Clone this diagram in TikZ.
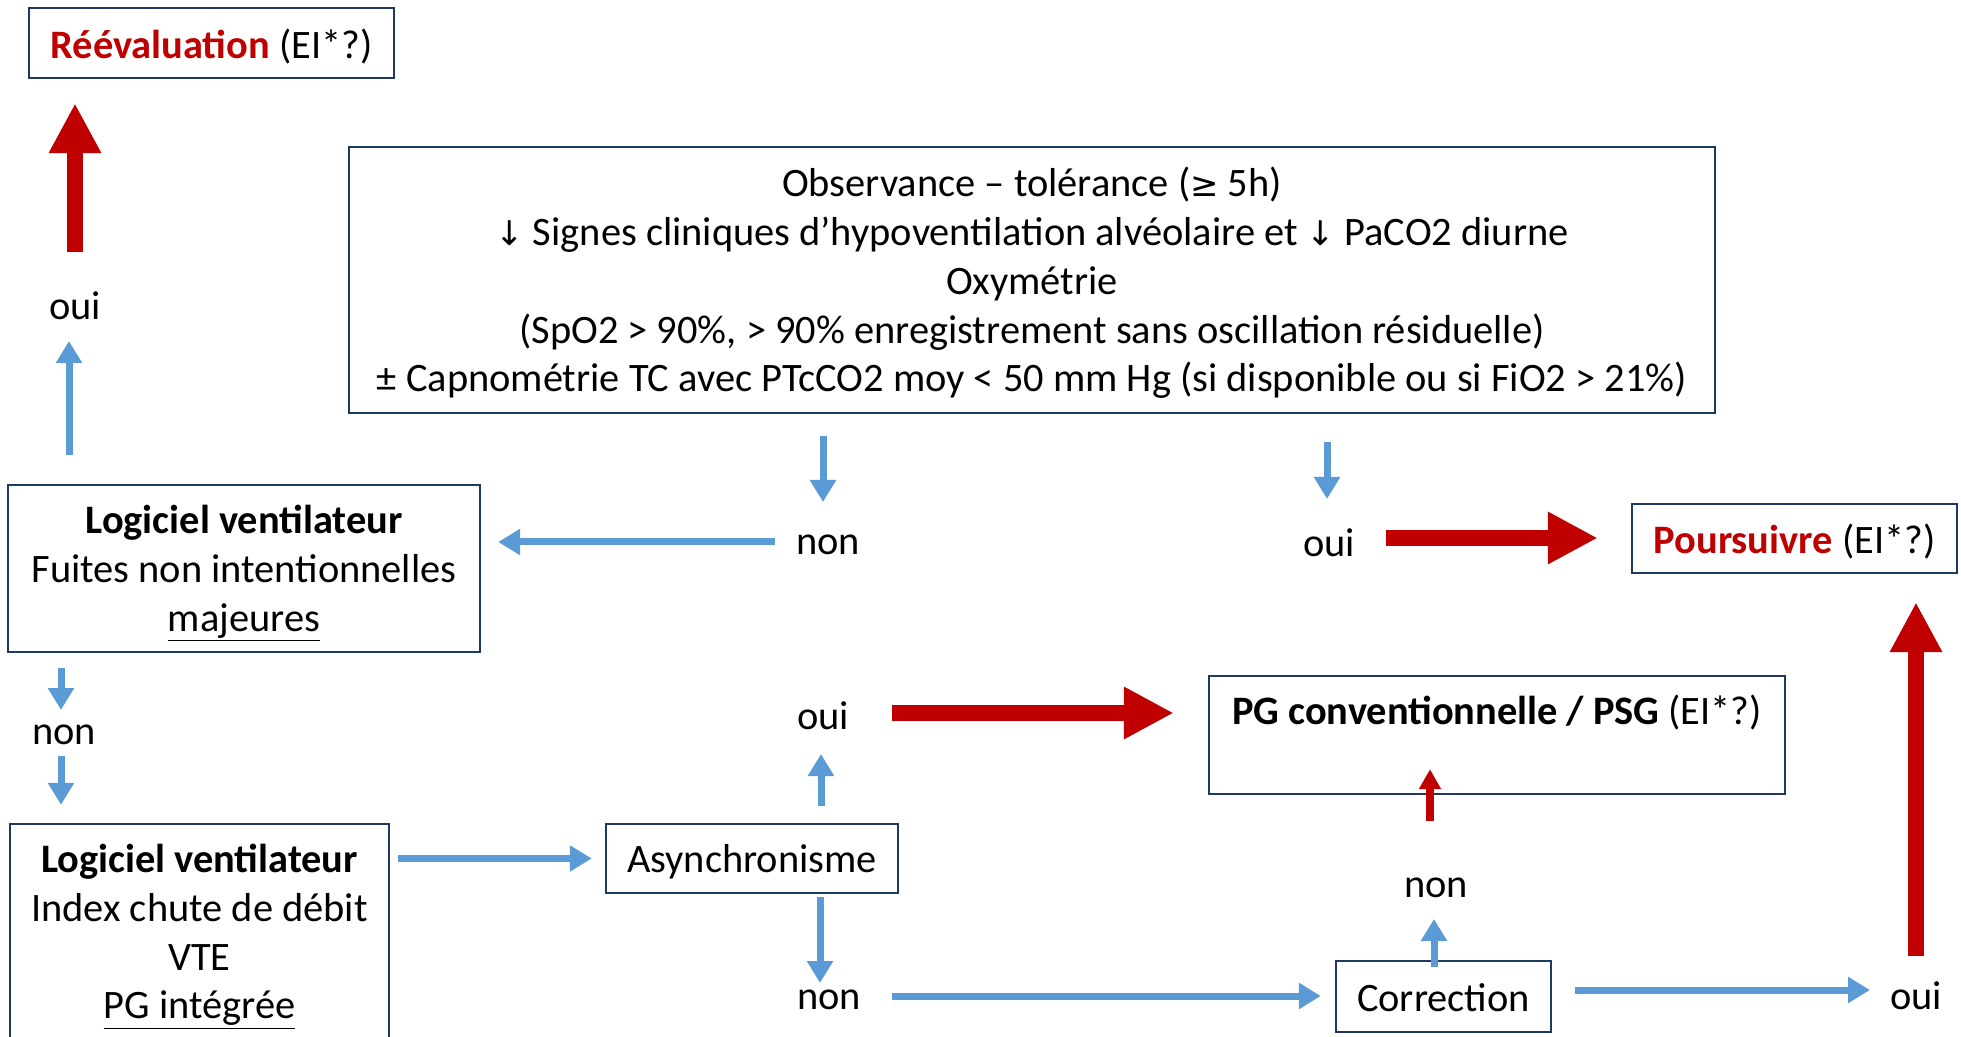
\documentclass[tikz,border=0pt]{standalone}
\usepackage{fontspec}
\setmainfont{Carlito}
\newfontfamily\symf{DejaVu Sans}
\usetikzlibrary{arrows.meta}
\definecolor{boxblue}{HTML}{1F3864}
\definecolor{arrblue}{HTML}{5B9BD5}
\definecolor{darkred}{HTML}{C00000}
\newcommand{\sym}[1]{{\symf\fontsize{17}{20}\selectfont #1}}
\begin{document}
\begin{tikzpicture}[x=0.5pt,y=-0.5pt,
  every node/.style={font=\fontsize{20.2}{24.4}\selectfont, inner sep=0pt},
  box/.style={draw=boxblue, line width=1.2pt},
  txt/.style={align=center},
  bluearr/.style={draw=arrblue, line width=3.5pt, -{Triangle[width=12.5pt,length=11pt]}},
  redbig/.style={draw=darkred, line width=8pt, -{Triangle[width=24.5pt,length=25pt]}},
  redthin/.style={draw=darkred, line width=4pt, -{Triangle[width=10.5pt,length=10pt]}},
]
\clip (0,0) rectangle (1961,1037);
\fill[white] (0,0) rectangle (1961,1037);

% boxes
\node[box, minimum width=182.5pt, minimum height=35pt] (reeval) at (211.5,43) {};
\node[txt] (reevalT) at ([yshift=-2pt]reeval.center)
  {\textcolor{darkred}{\textbf{Réévaluation}} (EI*?)};

\node[box, minimum width=683pt, minimum height=133pt] (big) at (1032,280) {};
\node[txt] (bigT) at ([yshift=-1.5pt]big.center)
  {Observance – tolérance (\sym{≥} 5h)\\
   \sym{↓} Signes cliniques d’hypoventilation alvéolaire et \sym{↓} PaCO2 diurne\\
   Oxymétrie\\
   (SpO2 > 90\%, > 90\% enregistrement sans oscillation résiduelle)\\
   ± Capnométrie TC avec PTcCO2 moy < 50 mm Hg (si disponible ou si FiO2 > 21\%)};

\node[box, minimum width=236pt, minimum height=83.5pt] (box1) at (244,568.5) {};
\node[txt] (box1T) at ([yshift=-2.5pt]box1.center)
  {\textbf{Logiciel ventilateur}\\Fuites non intentionnelles\\\underline{majeures}};

\node[box, minimum width=189.5pt, minimum height=109pt] (box2) at (199.5,933) {};
\node[txt] (box2T) at ([yshift=-2pt]box2.center)
  {\textbf{Logiciel ventilateur}\\Index chute de débit\\VTE\\\underline{PG intégrée}};

\node[box, minimum width=146pt, minimum height=34.5pt] (async) at (752,858.5) {};
\node[txt] (asyncT) at ([yshift=-1.5pt]async.center) {Asynchronisme};

\node[box, minimum width=107.5pt, minimum height=35.5pt] (corr) at (1443.5,996.5) {};
\node[txt] (corrT) at ([yshift=-0.5pt]corr.center) {Correction};

\node[box, minimum width=288pt, minimum height=59pt] (pg) at (1497,735) {};
\node[txt] (pgT) at ([yshift=11pt]pg.center) {\textbf{PG conventionnelle / PSG} (EI*?)};

\node[box, minimum width=162.5pt, minimum height=34.5pt] (pours) at (1794.5,538.5) {};
\node[txt] (poursT) at ([yshift=-1.5pt]pours.center)
  {\textcolor{darkred}{\textbf{Poursuivre}} (EI*?)};

% labels
\node (ouiR) at (75,306) {oui};
\node (nonM) at (828,545) {non};
\node (ouiM) at (1329,543) {oui};
\node (nonL) at (64,735) {non};
\node (ouiA) at (823,716) {oui};
\node (nonA) at (829,1000) {non};
\node (nonC) at (1436,888) {non};
\node (ouiC) at (1916,996) {oui};

% connectors
\draw[redbig, shorten <=27pt, shorten >=12pt] (ouiR.center) -- (ouiR.center |- reeval.south);
\draw[bluearr, shorten <=14.5pt, shorten >=17.5pt] ([xshift=-3pt]ouiR.center |- box1.north) -- ([xshift=-3pt]ouiR.center);
\draw[bluearr, shorten <=11pt, shorten >=21.5pt] ([xshift=-2.5pt]nonM.center |- big.south) -- ([xshift=-2.5pt]nonM.center);
\draw[bluearr, shorten <=26.5pt, shorten >=8.5pt] ([yshift=1.5pt]nonM.center) -- ([yshift=1.5pt]nonM.center -| box1.east);
\draw[bluearr, shorten <=7.5pt, shorten >=12.5pt] ([xshift=-1.5pt]nonL.center |- box1.south) -- ([xshift=-1.5pt]nonL.center);
\draw[bluearr, shorten <=10.5pt, shorten >=9pt] ([xshift=-1.5pt]nonL.center) -- ([xshift=-1.5pt]nonL.center |- box2.north);
\draw[bluearr, shorten <=4pt, shorten >=6.5pt] (box2.east |- async.west) -- (async.west);
\draw[bluearr, shorten <=8.5pt, shorten >=19pt] ([xshift=-1pt]ouiA.center |- async.north) -- ([xshift=-1pt]ouiA.center);
\draw[redbig, shorten <=34.5pt, shorten >=17pt] ([yshift=1.5pt]ouiA.center) -- ([yshift=1.5pt]ouiA.center -| pg.west);
\draw[bluearr, shorten <=1.5pt, shorten >=8.5pt] ([xshift=-4.5pt]nonA.center |- async.south) -- ([xshift=-4.5pt]nonA.center);
\draw[bluearr, shorten <=31.5pt, shorten >=7pt] ([yshift=2pt]nonA.center) -- ([yshift=2pt]nonA.center -| corr.west);
\draw[bluearr, shorten <=-3.5pt, shorten >=15.5pt] ([xshift=-1pt]nonC.center |- corr.north) -- ([xshift=-1pt]nonC.center);
\draw[redthin, shorten <=33.5pt, shorten >=-13pt] ([xshift=-3pt]nonC.center) -- ([xshift=-3pt]nonC.center |- pg.south);
\draw[bluearr, shorten <=11.5pt, shorten >=23pt] ([yshift=3pt]corr.east |- ouiC.center) -- ([yshift=3pt]ouiC.center);
\draw[redbig, shorten <=20pt, shorten >=14pt] (ouiC.center) -- (ouiC.center |- pours.south);
\draw[bluearr, shorten <=14pt, shorten >=22pt] ([xshift=-1pt]ouiM.center |- big.south) -- ([xshift=-1pt]ouiM.center);
\draw[redbig, shorten <=28.5pt, shorten >=16.5pt] ([yshift=2.5pt]ouiM.center) -- ([yshift=2.5pt]ouiM.center -| pours.west);
\end{tikzpicture}
\end{document}
